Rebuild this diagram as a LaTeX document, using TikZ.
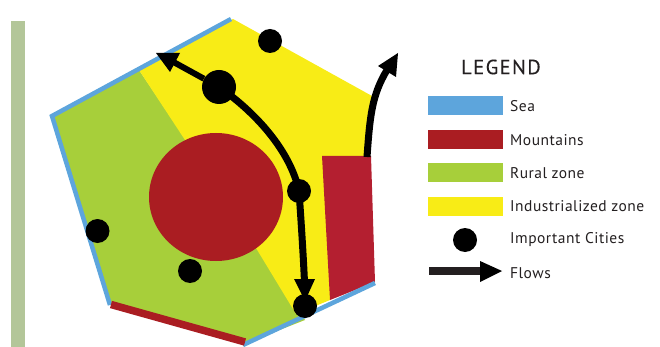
\documentclass[tikz,border=0pt]{standalone}
\usepackage{fontspec}
\setmainfont{PT Sans}
\newfontfamily\legfont[LetterSpace=3.2]{PT Sans}
\newfontfamily\titlefont[LetterSpace=7,FakeBold=0.3]{PT Sans}
\definecolor{seaB}{HTML}{5DA5DC}
\definecolor{mtnR}{HTML}{AA1D22}
\definecolor{mtnS}{HTML}{B41F30}
\definecolor{ruralG}{HTML}{A7CF3A}
\definecolor{indY}{HTML}{F8EC16}
\definecolor{barG}{HTML}{B3C699}
\definecolor{txtK}{HTML}{231F20}
\tikzset{
  city/.style={circle,fill=black,inner sep=0pt,minimum size=#1},
  city/.default=24pt,
  flowline/.style={line width=7pt,black},
  head/.style={fill=black},
  swatch/.style={minimum width=75pt,minimum height=19pt,inner sep=0pt,anchor=north west},
  legtext/.style={anchor=west,inner sep=0pt,text=txtK,font=\legfont\fontsize{15.5}{18}\selectfont},
}
\begin{document}
\begin{tikzpicture}[x=1pt,y=-1pt]
\useasboundingbox (0,0) rectangle (660,347);
\fill[barG] (11,21) rectangle (25,347);
% zones
\fill[ruralG] (52,116) -- (139,70) -- (260,250) -- (305,320) -- (244,344) -- (110,304) -- cycle;
\fill[indY] (139,70) -- (233,19) -- (372,96) -- (366,160) -- (330,300) -- (296,314) -- (256,248) -- (185,140) -- cycle;
\fill[mtnS] (322,156) -- (371,156) -- (375,282) -- (330,300) -- cycle;
\fill[mtnR] (216,197) ellipse [x radius=67, y radius=64];
% coast
\draw[seaB,line width=4.5pt] (231,19) -- (52,116) -- (110,305);
\draw[seaB,line width=4.5pt] (243,345) -- (375,283);
\draw[mtnR,line width=7.5pt] (111,304.5) -- (245,342);
% cities
\node[city=34pt] (c1) at (219,87) {};
\node[city] (c2) at (270,41) {};
\node[city] (c3) at (299,191) {};
\node[city] (c4) at (305,306) {};
\node[city] (c5) at (97.5,231) {};
\node[city] (c6) at (190,271) {};
% flows
\coordinate (f1) at (168,59);
\draw[flowline,line width=6pt] (c1) -- (f1);
\fill[head] (156,53) -- (180,53) -- (170,72) -- cycle;
\draw[flowline] (c1.center) .. controls (255,112) and (290,150) .. (c3.center);
\draw[flowline] (c3.center) .. controls (301,220) and (303,250) .. (304.5,282);
\fill[head] (294,279) -- (315,279) -- (305,301) -- cycle;
\coordinate (f3a) at (367,157);
\coordinate (f3b) at (387,70);
\draw[flowline] (f3a) .. controls (370,115) and (372,95) .. (f3b);
\fill[head] (398,53) -- (396,77) -- (378,66) -- cycle;
% legend
\node[anchor=west,inner sep=0pt,text=txtK,font=\titlefont\fontsize{20.5}{24}\selectfont] (lt) at (461,67) {LEGEND};
\node[swatch,fill=seaB] (s1) at (428,96) {};
\node[swatch,fill=mtnR] (s2) at (428,130) {};
\node[swatch,fill=ruralG] (s3) at (428,163) {};
\node[swatch,fill=indY] (s4) at (428,197) {};
\node[city] (s5) at (465,240) {};
\node[legtext] (t1) at (510,106.5) {Sea};
\node[legtext] (t2) at (510,140) {Mountains};
\node[legtext] (t3) at (510,173.5) {Rural zone};
\node[legtext] (t4) at (510,206.5) {Industrialized zone};
\node[legtext] (t5) at (510,239.5) {Important Cities};
\node[legtext] (t6) at (510,273) {Flows};
\fill[txtK] (429,267) rectangle (482,275);
\fill[black] (480,261) -- (502,271) -- (480,282) -- cycle;
\end{tikzpicture}
\end{document}
